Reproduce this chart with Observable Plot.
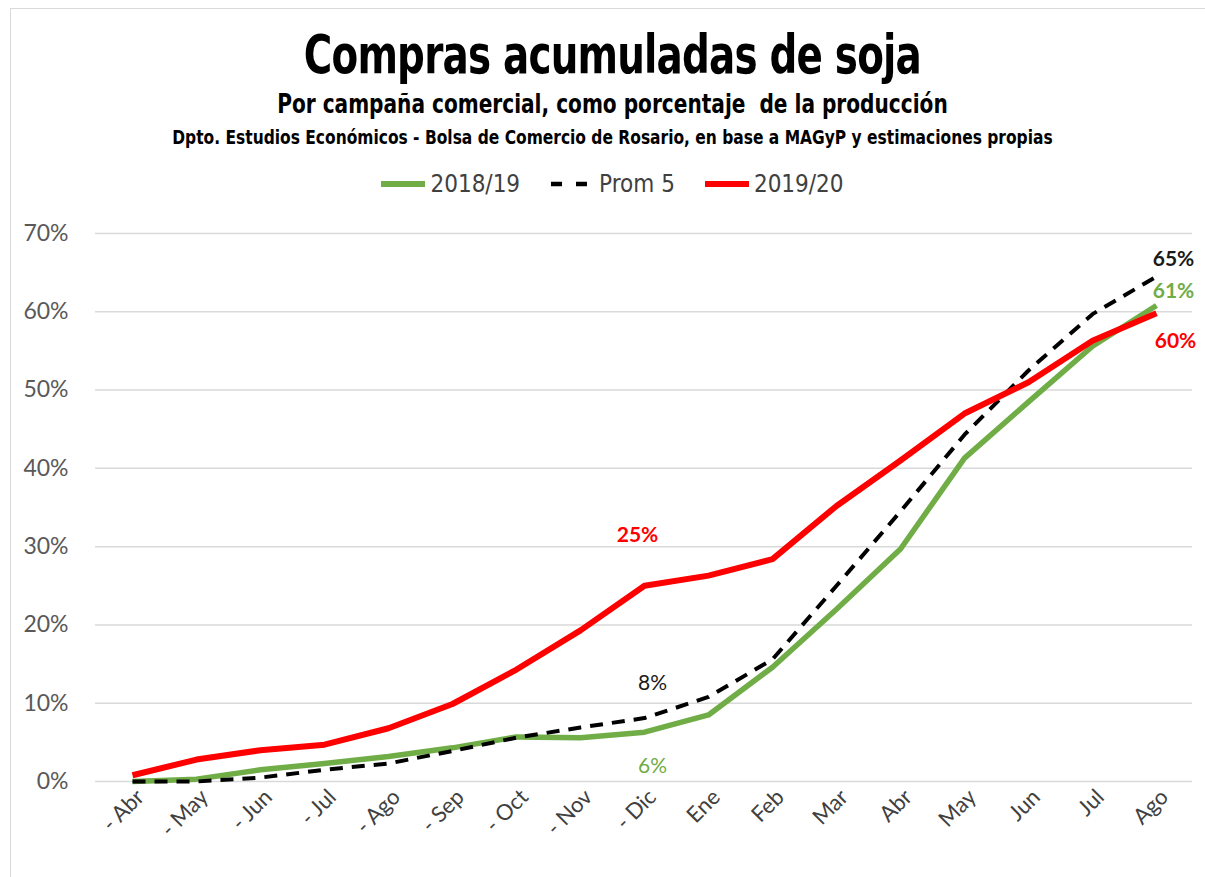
<!DOCTYPE html>
<html>
<head>
<meta charset="utf-8">
<script src="https://cdn.jsdelivr.net/npm/d3@7"></script>
<script src="https://cdn.jsdelivr.net/npm/@observablehq/plot@0.6"></script>
<style>
  html, body { margin: 0; padding: 0; background: #fff; }
  #wrap { position: relative; width: 1205px; height: 877px; overflow: hidden; background:#fff; }
  #frame { position: absolute; left: 10px; top: 8px; right: -2px; bottom: -2px; border-left: 1.5px solid #d9d9d9; border-top: 1.5px solid #d9d9d9; }
  .t { position: absolute; left: 0; width: 1225px; text-align: center; font-family: "DejaVu Sans Condensed", "DejaVu Sans", sans-serif; font-weight: bold; color: #000; white-space: nowrap; transform-origin: 612px 0; }
  #title { top: 23px; font-size: 54px; letter-spacing: -1px; transform: scaleX(0.8); }
  #sub { top: 89px; font-size: 26px; transform: scaleX(0.86); }
  #src { top: 125px; font-size: 20px; transform: scaleX(0.86); }
  #legend { position: absolute; top: 170px; left: 0; width: 1225px; display: flex; justify-content: center; gap: 30px; font-family: "DejaVu Sans Condensed", sans-serif; font-size: 24px; color: #404040; }
  #legend span.item { display: flex; align-items: center; gap: 5px; }
  #chart { position: absolute; left: 0; top: 0; }
</style>
</head>
<body>
<div id="wrap">
  <div id="frame"></div>
  <div class="t" id="title">Compras acumuladas de soja</div>
  <div class="t" id="sub">Por campaña comercial, como porcentaje&nbsp; de la producción</div>
  <div class="t" id="src">Dpto. Estudios Económicos - Bolsa de Comercio de Rosario, en base a MAGyP y estimaciones propias</div>
  <div id="legend"></div>
  <div id="chart"></div>
</div>
<script>
const months = ["- Abr","- May","- Jun","- Jul","- Ago","- Sep","- Oct","- Nov","- Dic","Ene","Feb","Mar","Abr","May","Jun","Jul","Ago"];
const seriesNames = ["2018/19", "Prom 5", "2019/20"];
const v2018 = [0, 0.3, 1.5, 2.3, 3.2, 4.3, 5.7, 5.6, 6.3, 8.5, 14.6, 22.0, 29.7, 41.3, 48.5, 55.6, 60.8];
const vProm = [0, 0, 0.5, 1.5, 2.3, 3.9, 5.6, 6.9, 8.1, 10.8, 15.6, 25.0, 34.5, 44.3, 52.5, 59.7, 64.5];
const v2019 = [0.8, 2.8, 4.0, 4.7, 6.8, 9.9, 14.3, 19.3, 25.0, 26.3, 28.4, 35.2, 41.0, 47.0, 51.0, 56.3, 59.8];
const yTicks = [0, 10, 20, 30, 40, 50, 60, 70];
// annotations: series, month, label
const annotations = [
  {series: "2019/20", month: "- Dic", label: "25%"},
  {series: "Prom 5", month: "- Dic", label: "8%"},
  {series: "2018/19", month: "- Dic", label: "6%"},
  {series: "Prom 5", month: "Ago", label: "65%"},
  {series: "2018/19", month: "Ago", label: "61%"},
  {series: "2019/20", month: "Ago", label: "60%"}
];

const colors = {"2018/19": "#70ad47", "Prom 5": "#000000", "2019/20": "#ff0000"};
const valuesBy = {"2018/19": v2018, "Prom 5": vProm, "2019/20": v2019};
const rows = seriesNames.flatMap(s => months.map((m, i) => ({series: s, month: m, value: valuesBy[s][i] / 100})));
const ann = annotations.map(a => ({...a, value: valuesBy[a.series][months.indexOf(a.month)] / 100}));

const annStyle = {
  "25%": {dx: -7, dy: -51, bold: true},
  "8%": {dx: 8, dy: -35, bold: false},
  "6%": {dx: 8, dy: 34, bold: false},
  "65%": {dx: 17, dy: -17, bold: true},
  "61%": {dx: 17, dy: -14, bold: true},
  "60%": {dx: 19, dy: 28, bold: true}
};

const lineStyle = {
  "2018/19": {strokeWidth: 5.5},
  "Prom 5": {strokeWidth: 4, strokeDasharray: "13,9"},
  "2019/20": {strokeWidth: 6}
};

const plot = Plot.plot({
  width: 1205,
  height: 877,
  marginTop: 233,
  marginBottom: 96,
  marginLeft: 95,
  marginRight: 13,
  style: {background: "transparent", fontFamily: "Lato, sans-serif"},
  x: {type: "point", domain: months, padding: 0.463, label: null},
  y: {domain: [0, 0.7], label: null},
  marks: [
    Plot.gridY(yTicks.map(d => d / 100), {stroke: "#d9d9d9", strokeOpacity: 1, strokeWidth: 1.5}),
    Plot.axisY(yTicks.map(d => d / 100), {tickSize: 0, tickPadding: 27, tickFormat: d => Math.round(d * 100) + "%", fontSize: 23, fill: "#595959", label: null}),
    Plot.axisX({tickSize: 0, tickPadding: 12, tickRotate: -45, fontSize: 22, fill: "#404040", label: null, dx: 8}),
    ...seriesNames.map(s => Plot.line(rows.filter(r => r.series === s), {
      x: "month", y: "value", stroke: colors[s], strokeLinejoin: "round", strokeLinecap: "butt", ...lineStyle[s]
    })),
    ...ann.map(a => Plot.text([a], {
      x: "month", y: "value", text: "label", fill: colors[a.series] === "#000000" ? "#1a1a1a" : colors[a.series],
      dx: annStyle[a.label].dx, dy: annStyle[a.label].dy, fontSize: 21,
      fontWeight: annStyle[a.label].bold ? "bold" : "normal", textAnchor: "middle"
    }))
  ]
});
document.getElementById("chart").appendChild(plot);

// legend
const legend = document.getElementById("legend");
for (const s of seriesNames) {
  const item = document.createElement("span");
  item.className = "item";
  item.innerHTML = `<svg width="44" height="12"><line x1="1" x2="43" y1="6" y2="6" stroke="${colors[s]}" stroke-width="${s === "Prom 5" ? 4.5 : 6}" ${s === "Prom 5" ? 'stroke-dasharray="11,14"' : 'stroke-linecap="round"'}/></svg><span>${s}</span>`;
  legend.appendChild(item);
}
</script>
</body>
</html>
